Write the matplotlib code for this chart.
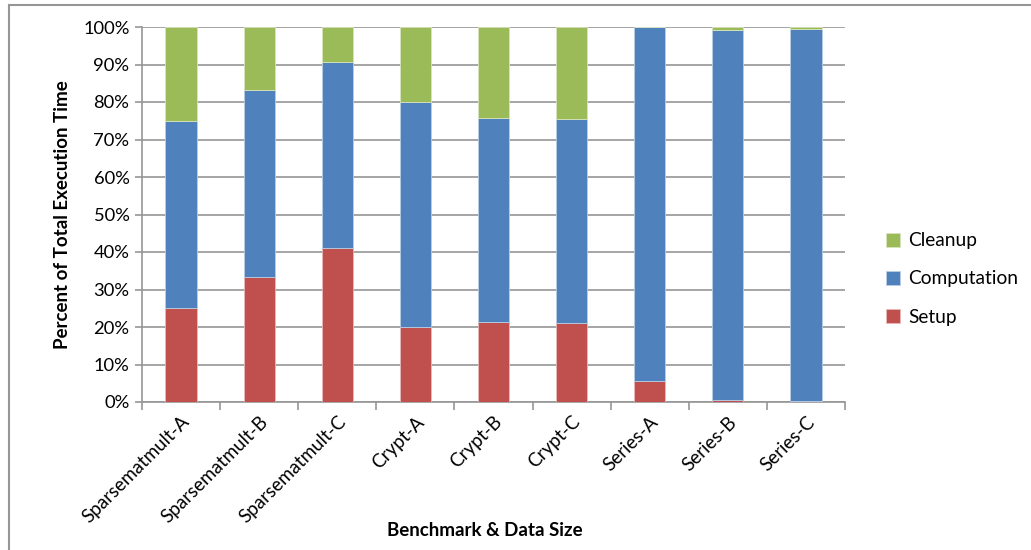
import matplotlib.pyplot as plt
from matplotlib.lines import Line2D
import numpy as np

benchmarks = ['Sparsematmult-A', 'Sparsematmult-B', 'Sparsematmult-C',
              'Crypt-A', 'Crypt-B', 'Crypt-C',
              'Series-A', 'Series-B', 'Series-C']
setup = [25.0, 33.3, 41.0, 20.0, 21.3, 21.0, 5.6, 0.5, 0.2]
computation = [50.0, 50.0, 49.7, 60.0, 54.4, 54.5, 94.4, 98.7, 99.4]
cleanup = [25.0, 16.7, 9.3, 20.0, 24.3, 24.5, 0.0, 0.8, 0.4]

plt.rcParams['font.family'] = ['Lato', 'DejaVu Sans']

fig = plt.figure(figsize=(10.31, 5.5), dpi=100)
ax = fig.add_axes([142 / 1031, 1 - 402 / 550, (845 - 142) / 1031, (402 - 27) / 550])

x = np.arange(len(benchmarks))
w = 0.4
bottom2 = np.array(setup) + np.array(computation)
ax.bar(x, setup, w, color='#C0504D', edgecolor='#E6B9B8', linewidth=0.6, label='Setup', zorder=3)
ax.bar(x, computation, w, bottom=setup, color='#4F81BD', edgecolor='#B9CDE5', linewidth=0.6,
       label='Computation', zorder=3)
ax.bar(x, cleanup, w, bottom=bottom2, color='#9BBB59', edgecolor='#D7E4BD', linewidth=0.6,
       label='Cleanup', zorder=3)

ax.set_xlim(-0.5, len(benchmarks) - 0.5)
ax.set_ylim(0, 100)
ax.set_yticks(np.arange(0, 101, 10))
ax.set_yticklabels([f'{v}%' for v in range(0, 101, 10)], fontsize=13.2)
ax.yaxis.grid(True, color='#969696', linewidth=1.2, zorder=0)
ax.tick_params(axis='y', length=5, color='#969696', width=1.2, pad=4)

# category labels at bar centres, tick marks between categories
ax.set_xticks(x)
ax.set_xticklabels(benchmarks, rotation=45, ha='right', rotation_mode='anchor', fontsize=13.5)
ax.tick_params(axis='x', length=0, pad=8)
ax.set_xticks(np.arange(-0.5, len(benchmarks)), minor=True)
ax.tick_params(axis='x', which='minor', length=6, color='#969696', width=1.2)

for side in ['top', 'right']:
    ax.spines[side].set_visible(False)
for side in ['left', 'bottom']:
    ax.spines[side].set_color('#969696')
    ax.spines[side].set_linewidth(1.2)

ax.set_ylabel('Percent of Total Execution Time', fontsize=13.5, fontweight='bold', labelpad=9)
fig.text(485 / 1031, 1 - 530 / 550, 'Benchmark & Data Size', fontsize=13.5, fontweight='bold',
         ha='center', va='center')

handles, labels = ax.get_legend_handles_labels()
leg = fig.legend(handles[::-1], labels[::-1], loc='center left',
                 bbox_to_anchor=(886 / 1031, 1 - 279 / 550), frameon=False, fontsize=13.8,
                 handlelength=0.75, handleheight=0.75, handletextpad=0.4, labelspacing=1.1,
                 borderpad=0, borderaxespad=0)

# outer chart border (left and top edges)
fig.add_artist(Line2D([9 / 1031, 9 / 1031], [0, 1 - 4.5 / 550], transform=fig.transFigure,
                      color='#969696', linewidth=1.5))
fig.add_artist(Line2D([9 / 1031, 1], [1 - 4.5 / 550, 1 - 4.5 / 550], transform=fig.transFigure,
                      color='#969696', linewidth=1.5))

fig.savefig('out.png', dpi=100)
